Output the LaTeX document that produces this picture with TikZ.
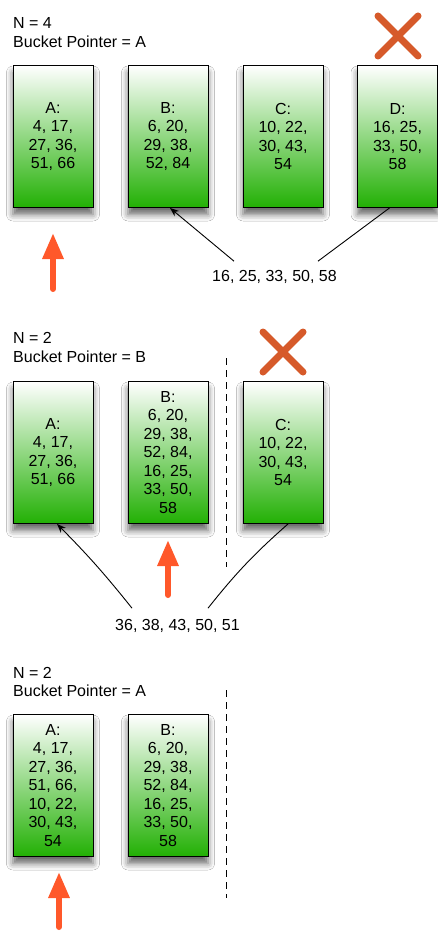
\documentclass[tikz,border=0pt]{standalone}
\usepackage{fontspec}
\setmainfont{Liberation Sans}
\usetikzlibrary{arrows.meta,shadows.blur}

\definecolor{bucketgreen}{RGB}{34,176,4}
\definecolor{pointerred}{RGB}{255,88,42}
\definecolor{crossred}{RGB}{214,90,42}

\tikzset{
  bucket/.style={draw=black, line width=0.9pt, minimum width=80pt, minimum height=142pt,
    inner sep=0pt, align=center, font=\fontsize{16}{18.5}\selectfont,
    top color=white, middle color=bucketgreen!30!white, bottom color=bucketgreen,
    blur shadow={shadow xshift=0pt, shadow yshift=-7pt, shadow blur radius=6.5pt, shadow opacity=60}},
  state/.style={anchor=west, align=left, inner sep=0pt, font=\fontsize{16}{18.5}\selectfont},
  keys/.style={inner sep=0pt, font=\fontsize{16}{18.5}\selectfont},
  split/.style={-{Stealth[length=9pt,width=7pt]}, line width=0.9pt},
  pointer/.style={-{Triangle[width=20pt,length=26pt]}, line width=6pt, line cap=round, pointerred},
  killed/.style={line width=7pt, line cap=round, crossred},
  divider/.style={line width=1pt, dash pattern=on 7pt off 5pt}
}

\begin{document}
\begin{tikzpicture}[x=1pt,y=-1pt]
\useasboundingbox (0,0) rectangle (438,933);
\fill[white] (0,0) rectangle (438,933);

% round 1: four buckets, D is split
\node[state] (s1) at (13,32.5) {N = 4\\Bucket Pointer = A};
\foreach \name/\x/\txt in {a1/53/{A:\\4, 17,\\27, 36,\\51, 66},
                           b1/168/{B:\\6, 20,\\29, 38,\\52, 84},
                           c1/283/{C:\\10, 22,\\30, 43,\\54},
                           d1/397.5/{D:\\16, 25,\\33, 50,\\58}}
  \node[bucket] (\name) at (\x,136.5) {\txt};
\draw[killed] (378,16) -- (418,56);
\draw[killed] (418,16) -- (378,56);
\draw[pointer] (53,289) -- (53,233);
\node[keys] (k1) at (274.5,277) {16, 25, 33, 50, 58};
\draw[split] ([xshift=22pt,yshift=9pt]k1.north west) -- ([xshift=2pt]b1.south);
\draw[line width=0.9pt] ([xshift=-19pt,yshift=9pt]k1.north east) -- ([xshift=-8pt]d1.south);

% round 2: D merged into B, C is split
\node[state] (s2) at (13,347.5) {N = 2\\Bucket Pointer = B};
\foreach \name/\x/\txt in {a2/53/{A:\\4, 17,\\27, 36,\\51, 66},
                           b2/168/{B:\\6, 20,\\29, 38,\\52, 84,\\16, 25,\\33, 50,\\58},
                           c2/283/{C:\\10, 22,\\30, 43,\\54}}
  \node[bucket] (\name) at (\x,452.5) {\txt};
\draw[divider] (226,358) -- (226,567);
\draw[killed] (263,332) -- (303,372);
\draw[killed] (303,332) -- (263,372);
\draw[pointer] (168,595) -- (168,540);
\node[keys] (k2) at (177.5,626) {36, 38, 43, 50, 51};
\draw[split] ([xshift=17pt,yshift=11pt]k2.north west) to[bend right=3] ([xshift=4pt]a2.south);
\draw[line width=0.9pt] ([xshift=-32pt,yshift=11pt]k2.north east) to[bend left=5] ([xshift=5pt]c2.south);

% round 3: C merged into A
\node[state] (s3) at (13,682) {N = 2\\Bucket Pointer = A};
\foreach \name/\x/\txt in {a3/53/{A:\\4, 17,\\27, 36,\\51, 66,\\10, 22,\\30, 43,\\54},
                           b3/168/{B:\\6, 20,\\29, 38,\\52, 84,\\16, 25,\\33, 50,\\58}}
  \node[bucket] (\name) at (\x,785.5) {\txt};
\draw[divider] (226,690) -- (226,898);
\draw[pointer] (59,927) -- (59,872);
\end{tikzpicture}
\end{document}
